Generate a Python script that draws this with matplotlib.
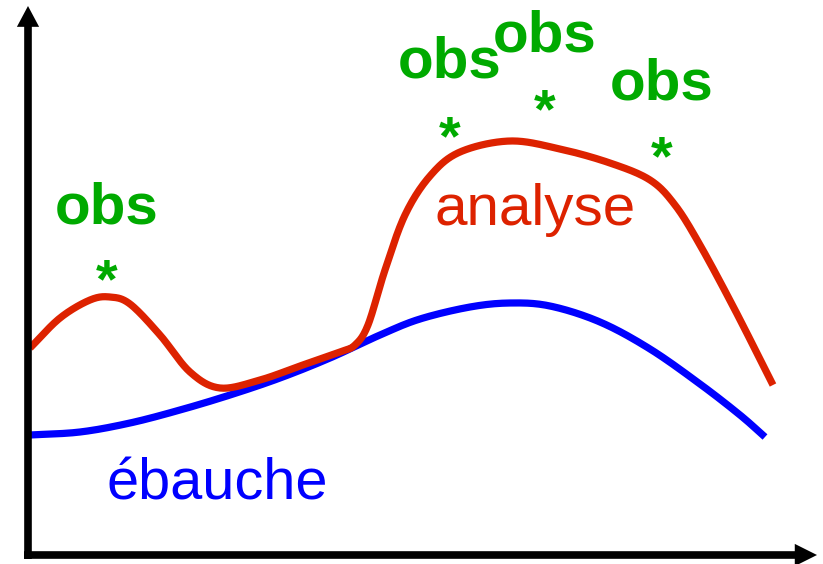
import matplotlib
matplotlib.use("Agg")
import matplotlib.pyplot as plt
import numpy as np
from matplotlib.patches import FancyArrowPatch

# Schematic data (x, height from top) in arbitrary units
H = 564
analyse_x = [30, 60, 90, 110, 130, 160, 190, 220, 260, 300, 340, 355,
             368, 385, 405, 430, 460, 510, 560, 610, 650, 675, 700, 735, 773]
analyse_y = [348, 318, 300, 297, 304, 335, 372, 388, 380, 366, 352, 345,
             325, 270, 215, 176, 152, 141, 149, 163, 180, 205, 245, 310, 385]
ebauche_x = [30, 80, 130, 180, 230, 280, 330, 380, 420, 470, 510, 550,
             600, 650, 700, 740, 765]
ebauche_y = [435, 432, 423, 410, 395, 378, 358, 335, 319, 307, 303, 306,
             322, 349, 384, 415, 437]
obs_x = [107, 450, 545, 662]
obs_y = [277, 134, 107, 154]
obs_label_y = [208, 62, 37, 85]


def smooth(xs, ys, n=20):
    p = np.column_stack([xs, ys]).astype(float)
    p = np.vstack([2 * p[0] - p[1], p, 2 * p[-1] - p[-2]])
    out = []
    t = np.linspace(0, 1, n, endpoint=False)[:, None]
    for i in range(1, len(p) - 2):
        p0, p1, p2, p3 = p[i - 1], p[i], p[i + 1], p[i + 2]
        seg = 0.5 * ((2 * p1) + (-p0 + p2) * t + (2 * p0 - 5 * p1 + 4 * p2 - p3) * t ** 2
                     + (-p0 + 3 * p1 - 3 * p2 + p3) * t ** 3)
        out.append(seg)
    out.append(p[-2][None, :])
    out = np.vstack(out)
    return out[:, 0], out[:, 1]


fig = plt.figure(figsize=(8.23, 5.64), dpi=100)
ax = fig.add_axes([0, 0, 1, 1])
ax.set_xlim(0, 823)
ax.set_ylim(0, H)
ax.axis("off")

bx, by = smooth(ebauche_x, ebauche_y)
ax.plot(bx, H - by, color="#0000FF", lw=5.2, solid_capstyle="butt")
rx, ry = smooth(analyse_x, analyse_y)
ax.plot(rx, H - ry, color="#DD2200", lw=5.2, solid_capstyle="butt", solid_joinstyle="round")

# axes with arrowheads
ax.plot([28, 28], [H - 559, H - 26], color="black", lw=5.5, solid_capstyle="butt")
ax.plot([24, 795], [H - 555, H - 555], color="black", lw=5.5, solid_capstyle="butt")
ax.add_patch(FancyArrowPatch((28, H - 40), (28, H - 6),
                             arrowstyle="-|>,head_length=15,head_width=8",
                             mutation_scale=1, lw=0, color="black", shrinkA=0, shrinkB=0))
ax.add_patch(FancyArrowPatch((780, H - 555), (817, H - 555),
                             arrowstyle="-|>,head_length=16,head_width=8",
                             mutation_scale=1, lw=0, color="black", shrinkA=0, shrinkB=0))

green = "#00AA00"
for x, y, ly in zip(obs_x, obs_y, obs_label_y):
    ax.text(x, H - y, "*", color=green, fontsize=40, fontweight="bold",
            family="Liberation Sans", ha="center", va="center_baseline")
    ax.text(x, H - ly, "obs", color=green, fontsize=42, fontweight="bold",
            family="Liberation Sans", ha="center", va="center")

ax.text(535, H - 210, "analyse", color="#DD2200", fontsize=42, family="Liberation Sans",
        ha="center", va="center")
ax.text(217, H - 485, "ébauche", color="#0000FF", fontsize=41.5, family="Liberation Sans",
        ha="center", va="center")

fig.savefig("out.png", dpi=100)
